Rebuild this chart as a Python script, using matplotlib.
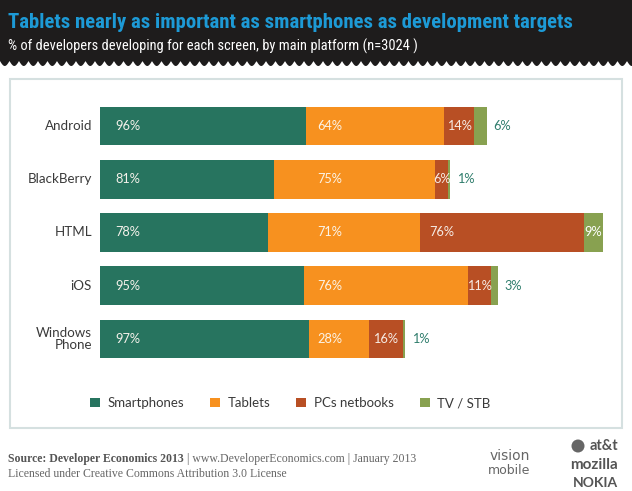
import numpy as np
import matplotlib
matplotlib.use('Agg')
import matplotlib.pyplot as plt
from matplotlib import font_manager
from matplotlib.patches import Rectangle, Polygon, Patch, Ellipse

# data
platforms = ['Android', 'BlackBerry', 'HTML', 'iOS', 'Windows\nPhone']
screens = ['Smartphones', 'Tablets', 'PCs netbooks', 'TV / STB']
smartphones = [96, 81, 78, 95, 97]
tablets = [64, 75, 71, 76, 28]
pcs = [14, 6, 76, 11, 16]
tv = [6, 1, 9, 3, 1]

colors = ['#27745f', '#f7911f', '#b84f24', '#88a150']
TEAL_TXT = '#2f7d6c'

names = {f.name for f in font_manager.fontManager.ttflist}
NARROW = 'DejaVu Sans'
for cand in ['Liberation Sans Narrow', 'Roboto Condensed', 'Open Sans Condensed']:
    if cand in names:
        NARROW = cand
        break
SANS = 'Lato' if 'Lato' in names else 'DejaVu Sans'
SERIF = 'Liberation Serif'

W, H = 632, 491
fig = plt.figure(figsize=(W / 100, H / 100), dpi=100)
fig.patch.set_facecolor('white')


def fx(px):
    return px / W


def fy(py):
    return 1 - py / H


def fit_width(txt, px):
    # shrink a text until it spans px pixels
    r = fig.canvas.get_renderer()
    w = txt.get_window_extent(r).width
    txt.set_fontsize(txt.get_fontsize() * px / w)


# black header with scalloped bottom
period, depth, base = 9.5, 5.0, 61
xs = np.linspace(0, W, 1200)
edge = base + depth * np.abs(np.sin(np.pi * xs / period))
pts = [(0, 0), (W, 0)] + list(zip(xs[::-1], edge[::-1]))
fig.add_artist(Polygon([(fx(x), fy(y)) for x, y in pts], closed=True, zorder=-2,
                       transform=fig.transFigure, facecolor='#1e1c1c', edgecolor='none'))

title = fig.text(fx(8), fy(22), 'Tablets nearly as important as smartphones as development targets',
                 color='#1d9ad6', fontsize=14, fontweight='bold',
                 family=NARROW, va='center', ha='left')
fit_width(title, 567)
sub = fig.text(fx(8), fy(46), '% of developers developing for each screen, by main platform (n=3024 )',
               color='white', fontsize=10, family=NARROW, va='center', ha='left')
fit_width(sub, 407)

# chart panel
fig.add_artist(Rectangle((fx(10), fy(428)), fx(622) - fx(10), fy(79) - fy(428), zorder=-1,
                         transform=fig.transFigure, facecolor='white',
                         edgecolor='#d5e0e0', linewidth=1.5))

# bars axes
slot = 53.25
top = 126 - slot / 2
ax = fig.add_axes([fx(100), fy(top + 5 * slot), fx(616) - fx(100), 5 * slot / H])
ax.set_xlim(0, 240)
ax.set_ylim(4.5, -0.5)
ax.axis('off')

y = np.arange(len(platforms))
series = [smartphones, tablets, pcs, tv]
left = np.zeros(len(platforms))
for vals, c, name in zip(series, colors, screens):
    ax.barh(y, vals, left=left, height=0.73, color=c, label=name)
    left = left + np.array(vals)

lab = dict(fontsize=9.2, family=SANS, va='center')
s = np.array(smartphones)
t = np.array(tablets)
p = np.array(pcs)
v = np.array(tv)
for i in y:
    ax.text(7, i, f'{s[i]}%', color='#f4f1ea', ha='left', **lab)
    ax.text(max(s[i] + 1, 101), i, f'{t[i]}%', color='#fbf3e6', ha='left', **lab)
    ps = s[i] + t[i]
    if p[i] < 20:
        ax.text(ps + p[i] / 2, i, f'{p[i]}%', color='#f6ece6', ha='center', **lab)
    else:
        ax.text(ps + 4, i, f'{p[i]}%', color='#f6ece6', ha='left', **lab)
    ts = ps + p[i]
    if v[i] >= 9:
        ax.text(ts + v[i] / 2, i, f'{v[i]}%', color='white', ha='center', **lab)
    else:
        ax.text(ts + v[i] + 3, i, f'{v[i]}%', color=TEAL_TXT, ha='left', **lab)

# category labels
for i, name in enumerate(platforms):
    ax.text(-3.7, i, name, ha='right', va='center', fontsize=9.6, family=SANS,
            color='#3a3a3a', linespacing=1.0)

# legend
handles = [Patch(facecolor=c, edgecolor='none') for c in colors]
fig.legend(handles, screens, loc='center left', bbox_to_anchor=(fx(90), fy(403)),
           ncol=4, frameon=False, prop={'family': SANS, 'size': 9.5},
           handlelength=0.75, handleheight=0.75, handletextpad=0.55,
           columnspacing=2.0, borderpad=0, borderaxespad=0, labelcolor='#3a3a3a')

# footer
t1 = fig.text(fx(8), fy(459), 'Source: Developer Economics 2013', family=SERIF,
              fontweight='bold', fontsize=8.5, color='#555555', va='center', ha='left')
ax.annotate(' | www.DeveloperEconomics.com | January 2013', xy=(1, 0.5), xycoords=t1,
            va='center', ha='left', family=SERIF, fontsize=8.5, color='#666666',
            annotation_clip=False)
fig.text(fx(8), fy(474), 'Licensed under Creative Commons Attribution 3.0 License', family=SERIF,
         fontsize=8.5, color='#666666', va='center', ha='left')

# sponsor marks
fig.text(fx(490), fy(456), 'vision', family='DejaVu Sans', fontsize=10,
         color='#666666', va='center', ha='left')
fig.text(fx(488), fy(470), 'mobile', family='DejaVu Sans', fontsize=9, color='#666666',
         va='center', ha='left')
fig.add_artist(Ellipse((fx(578), fy(446)), fx(13), 13 / H, transform=fig.transFigure,
                       facecolor='#666666', edgecolor='none'))
fig.text(fx(618), fy(446), 'at&t', family=SANS, fontweight='bold', fontsize=10.5,
         color='#555555', va='center', ha='right')
fig.text(fx(618), fy(465), 'mozilla', family=SANS, fontweight='bold', fontsize=11,
         color='#555555', va='center', ha='right')
fig.text(fx(618), fy(483), 'NOKIA', family=SANS, fontweight='bold', fontsize=10,
         color='#555555', va='center', ha='right')

fig.savefig('out.png', dpi=100)
